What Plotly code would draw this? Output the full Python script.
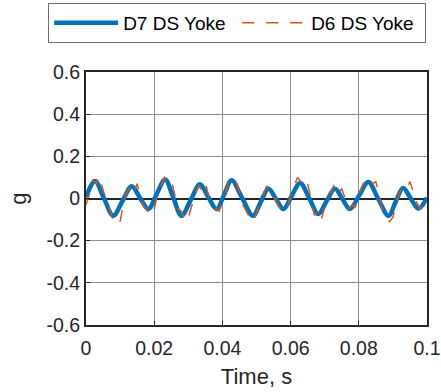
import plotly.graph_objects as go

# D7 DS Yoke (smooth) - key points
t_d7 = [0.0000, 0.0026, 0.0053, 0.0080, 0.0107, 0.0134, 0.0158, 0.0183, 0.0207, 0.0232,
        0.0256, 0.0280, 0.0307, 0.0334, 0.0358, 0.0383, 0.0405, 0.0427, 0.0458, 0.0490,
        0.0512, 0.0535, 0.0557, 0.0579, 0.0603, 0.0628, 0.0655, 0.0681, 0.0705, 0.0730,
        0.0752, 0.0774, 0.0801, 0.0828, 0.0857, 0.0887, 0.0908, 0.0930, 0.0952, 0.0975,
        0.1000]
g_d7 = [0.006, 0.083, 0.000, -0.082, -0.012, 0.058, 0.004, -0.050, 0.020, 0.090,
        0.004, -0.082, -0.008, 0.067, 0.008, -0.050, 0.018, 0.086, 0.002, -0.082,
        -0.018, 0.046, -0.002, -0.050, 0.012, 0.074, 0.000, -0.074, -0.014, 0.046,
        -0.002, -0.050, 0.014, 0.078, -0.002, -0.082, -0.016, 0.050, 0.001, -0.048,
        0.004]

# D6 DS Yoke (noisy) - sampled every 1 ms
t_d6 = [i / 1000 for i in range(101)]
g_d6 = [-0.03, 0.02, 0.09, 0.07, 0.105, 0.04, -0.01, -0.06, -0.105, -0.09,
        -0.11, -0.02, 0.03, 0.06, 0.03, 0.07, 0.00, -0.04, -0.06, -0.03,
        -0.05, 0.02, 0.06, 0.10, 0.08, 0.09, 0.02, -0.05, -0.06, -0.11,
        -0.09, -0.03, 0.02, 0.06, 0.04, 0.075, 0.01, -0.03, -0.045, -0.06,
        -0.02, 0.04, 0.09, 0.07, 0.08, 0.03, -0.03, -0.06, -0.09, -0.11,
        -0.07, -0.02, 0.02, 0.06, 0.03, 0.01, -0.02, -0.05, -0.06, -0.04,
        0.01, 0.06, 0.10, 0.08, 0.05, 0.07, -0.01, -0.08, -0.06, -0.10,
        -0.04, 0.01, 0.04, 0.07, 0.03, 0.045, 0.00, -0.05, -0.03, -0.04,
        0.02, 0.06, 0.09, 0.10, 0.07, 0.08, 0.01, -0.06, -0.08, -0.11,
        -0.09, -0.02, 0.03, 0.05, 0.04, 0.08, 0.03, -0.02, -0.05, -0.03,
        -0.01]

x_ticks = [0, 0.02, 0.04, 0.06, 0.08, 0.1]
x_ticklabels = ["0", "0.02", "0.04", "0.06", "0.08", "0.1"]
y_ticks = [-0.6, -0.4, -0.2, 0, 0.2, 0.4, 0.6]
y_ticklabels = ["-0.6", "-0.4", "-0.2", "0", "0.2", "0.4", "0.6"]

FONT = "Liberation Sans, Arial, sans-serif"

fig = go.Figure()
fig.add_trace(go.Scatter(x=t_d7, y=g_d7, mode="lines", name="D7 DS Yoke",
                         line=dict(color="#0072BD", width=4.5, shape="spline", smoothing=1.0)))
fig.add_trace(go.Scatter(x=t_d6, y=g_d6, mode="lines", name="D6 DS Yoke",
                         line=dict(color="#D95319", width=1.5, dash="12px,12px")))

fig.update_layout(
    width=441, height=392,
    margin=dict(l=86, r=14, t=72, b=67, autoexpand=False),
    paper_bgcolor="white", plot_bgcolor="white",
    font=dict(family=FONT, size=19.5, color="#262626"),
    legend=dict(orientation="h", x=-0.111, xanchor="left", y=1.273, yanchor="top",
                bordercolor="#6e6e6e", borderwidth=1, bgcolor="white",
                font=dict(size=19, color="#000000"), itemwidth=64,
                entrywidth=109, tracegroupgap=0),
    xaxis=dict(range=[0, 0.1], tickvals=x_ticks, ticktext=x_ticklabels,
               showgrid=True, gridcolor="#8c8c8c", gridwidth=1, automargin=False,
               showline=True, linecolor="#262626", linewidth=2, mirror=True,
               ticks="inside", ticklen=4, tickcolor="#262626", zeroline=False,
               ticklabelstandoff=5,
               title=dict(text="Time, s", font=dict(size=22), standoff=10)),
    yaxis=dict(range=[-0.6, 0.6], tickvals=y_ticks, ticktext=y_ticklabels,
               showgrid=True, gridcolor="#8c8c8c", gridwidth=1, automargin=False,
               showline=True, linecolor="#262626", linewidth=2, mirror=True,
               ticks="inside", ticklen=4, tickcolor="#262626",
               zeroline=True, zerolinecolor="#262626", zerolinewidth=1.5,
               title=dict(text="g", font=dict(size=22), standoff=14)),
)

fig.write_html("out.html", config={"displayModeBar": False},
               post_script="document.body.style.margin='0';")
